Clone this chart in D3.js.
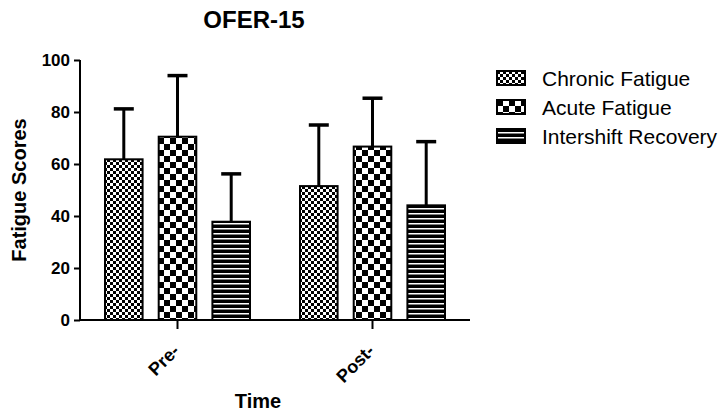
<!DOCTYPE html>
<html>
<head>
<meta charset="utf-8">
<script src="https://cdn.jsdelivr.net/npm/d3@7"></script>
<style>
  body { margin: 0; background: #fff; }
  text { font-family: "Liberation Sans", Arial, sans-serif; }
</style>
</head>
<body>
<svg id="chart" width="720" height="413"></svg>
<script>
// data
var timepoints = ['Pre-', 'Post-'];
var seriesNames = ['Chronic Fatigue', 'Acute Fatigue', 'Intershift Recovery'];
var chronicMean = [61.8, 51.5];
var chronicSD = [19.4, 23.5];
var acuteMean = [70.5, 66.7];
var acuteSD = [23.5, 18.6];
var recoveryMean = [37.8, 44.1];
var recoverySD = [18.4, 24.5];
var yTicks = [0, 20, 40, 60, 80, 100];

var svg = d3.select('#chart');

// patterns
var defs = svg.append('defs');

var p1 = defs.append('pattern').attr('id', 'pat-chronic')
  .attr('patternUnits', 'userSpaceOnUse').attr('width', 6).attr('height', 6);
p1.append('rect').attr('width', 6).attr('height', 6).attr('fill', '#fff');
p1.append('rect').attr('width', 3).attr('height', 3).attr('fill', '#000');
p1.append('rect').attr('x', 3).attr('y', 3).attr('width', 3).attr('height', 3).attr('fill', '#000');

var p2 = defs.append('pattern').attr('id', 'pat-acute')
  .attr('patternUnits', 'userSpaceOnUse').attr('width', 12).attr('height', 12);
p2.append('rect').attr('width', 12).attr('height', 12).attr('fill', '#fff');
p2.append('rect').attr('width', 6).attr('height', 6).attr('fill', '#000');
p2.append('rect').attr('x', 6).attr('y', 6).attr('width', 6).attr('height', 6).attr('fill', '#000');

var p3 = defs.append('pattern').attr('id', 'pat-recovery')
  .attr('patternUnits', 'userSpaceOnUse').attr('width', 8).attr('height', 5);
p3.append('rect').attr('width', 8).attr('height', 5).attr('fill', '#000');
p3.append('rect').attr('y', 3).attr('width', 8).attr('height', 1.5).attr('fill', '#fff');

var fills = ['url(#pat-chronic)', 'url(#pat-acute)', 'url(#pat-recovery)'];

var margin = { left: 80, top: 60, right: 250, bottom: 93 };
var width = 720 - margin.left - margin.right;
var height = 413 - margin.top - margin.bottom;

var g = svg.append('g').attr('transform', 'translate(' + margin.left + ',' + margin.top + ')');

var x = d3.scaleBand().domain(timepoints).range([0, width]).padding(0);
var xInner = d3.scaleBand().domain(seriesNames).range([25, x.bandwidth() - 25]).paddingInner(0.3);
var y = d3.scaleLinear().domain([0, 100]).range([height, 0]);

var rows = [];
timepoints.forEach(function (t, i) {
  rows.push({ time: t, series: seriesNames[0], mean: chronicMean[i], sd: chronicSD[i], fill: fills[0] });
  rows.push({ time: t, series: seriesNames[1], mean: acuteMean[i], sd: acuteSD[i], fill: fills[1] });
  rows.push({ time: t, series: seriesNames[2], mean: recoveryMean[i], sd: recoverySD[i], fill: fills[2] });
});

function cx(d) { return x(d.time) + xInner(d.series) + xInner.bandwidth() / 2; }

// error bars (up only) drawn first so the bar border sits on top
var err = g.selectAll('.err').data(rows).enter().append('g').attr('class', 'err');
err.append('line')
  .attr('x1', cx).attr('x2', cx)
  .attr('y1', function (d) { return y(d.mean); })
  .attr('y2', function (d) { return y(d.mean + d.sd); })
  .attr('stroke', '#000').attr('stroke-width', 3);
err.append('line')
  .attr('x1', function (d) { return cx(d) - 10; })
  .attr('x2', function (d) { return cx(d) + 10; })
  .attr('y1', function (d) { return y(d.mean + d.sd); })
  .attr('y2', function (d) { return y(d.mean + d.sd); })
  .attr('stroke', '#000').attr('stroke-width', 3.5);

g.selectAll('.bar').data(rows).enter().append('rect')
  .attr('class', 'bar')
  .attr('x', function (d) { return x(d.time) + xInner(d.series); })
  .attr('width', xInner.bandwidth())
  .attr('y', function (d) { return y(d.mean); })
  .attr('height', function (d) { return height - y(d.mean); })
  .attr('fill', function (d) { return d.fill; })
  .attr('stroke', '#000').attr('stroke-width', 2);

// axes
var yAxis = g.append('g').call(d3.axisLeft(y).tickValues(yTicks).tickSize(6).tickPadding(4));
yAxis.select('.domain').attr('stroke-width', 2).attr('d', 'M0,' + height + 'V0');
yAxis.selectAll('.tick line').attr('stroke-width', 2);
yAxis.selectAll('text').attr('font-size', 17).attr('font-weight', 'bold').attr('fill', '#000')
  .attr('font-family', '"Liberation Sans", Arial, sans-serif');

var xAxis = g.append('g').attr('transform', 'translate(0,' + height + ')')
  .call(d3.axisBottom(x).tickSize(9).tickPadding(6));
xAxis.select('.domain').attr('stroke-width', 2).attr('d', 'M0,0H' + width);
xAxis.selectAll('.tick line').attr('stroke-width', 2);
xAxis.selectAll('text')
  .attr('font-size', 18).attr('font-weight', 'bold').attr('fill', '#000')
  .attr('font-family', '"Liberation Sans", Arial, sans-serif')
  .attr('text-anchor', 'end')
  .attr('x', 0).attr('y', 0).attr('dy', 0)
  .attr('transform', 'translate(3,32) rotate(-45)');

// titles
svg.append('text').attr('x', 254).attr('y', 28).attr('text-anchor', 'middle')
  .attr('font-size', 24).attr('font-weight', 'bold').text('OFER-15');
svg.append('text').attr('transform', 'translate(26,' + 190 + ') rotate(-90)')
  .attr('text-anchor', 'middle').attr('font-size', 20).attr('font-weight', 'bold').text('Fatigue Scores');
svg.append('text').attr('x', 258).attr('y', 408).attr('text-anchor', 'middle')
  .attr('font-size', 20).attr('font-weight', 'bold').text('Time');

// legend
var legend = svg.append('g').attr('transform', 'translate(497,71)');
var items = legend.selectAll('.item').data(seriesNames).enter().append('g')
  .attr('transform', function (d, i) { return 'translate(0,' + (i * 29) + ')'; });
items.append('rect').attr('width', 28).attr('height', 14)
  .attr('fill', function (d, i) { return fills[i]; })
  .attr('stroke', '#000').attr('stroke-width', 2);
items.append('text').attr('x', 45).attr('y', 14.5).attr('font-size', 21).text(function (d) { return d; });
</script>
</body>
</html>
